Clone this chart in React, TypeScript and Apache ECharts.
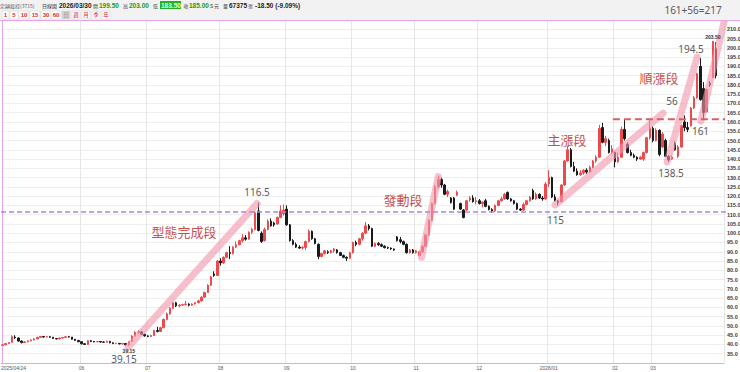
import React, { useEffect, useRef } from 'react';
import * as echarts from 'echarts';

// Taiwan exchange holidays within the range (weekdays closed)
const HOLIDAYS = [
  '2025-05-01', '2025-05-30', '2025-09-29', '2025-10-06', '2025-10-10', '2025-10-24',
  '2025-12-25', '2026-01-01', '2026-02-12', '2026-02-13', '2026-02-16', '2026-02-17',
  '2026-02-18', '2026-02-19', '2026-02-20', '2026-02-27',
];

// [open, close, low, high]
type K = [number, number, number, number];
const aprCandles: K[] = [
  [39.5, 39.8, 39.2, 40.2], [39.8, 40.5, 39.6, 40.8], [40.5, 41.0, 40.2, 41.3],
  [41.2, 44.2, 41.0, 45.0], [44.0, 43.6, 43.0, 45.0],
];
const mayCandles: K[] = [
  [43.5, 41.8, 41.5, 43.8], [41.8, 41.0, 40.6, 42.2], [41.0, 41.4, 40.8, 41.8], [41.4, 41.9, 41.2, 42.2],
  [41.9, 42.4, 41.7, 42.7], [42.4, 43.0, 42.2, 43.3], [43.0, 43.8, 42.8, 44.2], [43.8, 44.3, 43.5, 44.6],
  [44.3, 44.0, 43.7, 44.6], [44.0, 44.2, 43.8, 44.5], [44.2, 43.9, 43.6, 44.5], [43.9, 43.2, 43.0, 44.0],
  [43.2, 43.0, 42.7, 43.5], [43.0, 43.5, 42.8, 43.8], [43.5, 43.8, 43.2, 44.0], [43.8, 44.2, 43.6, 44.5],
  [44.2, 44.0, 43.7, 44.6], [44.0, 42.8, 42.6, 44.0], [42.8, 42.2, 41.9, 43.0], [42.2, 41.5, 41.2, 42.4],
];
const junCandles: K[] = [
  [41.5, 40.4, 40.0, 41.6], [40.4, 40.0, 39.7, 40.6], [40.0, 42.0, 39.9, 42.4], [42.0, 41.6, 41.3, 42.3],
  [41.6, 41.4, 41.1, 41.9], [41.4, 41.6, 41.2, 41.9], [41.6, 41.3, 41.0, 41.8], [41.3, 41.2, 40.9, 41.6],
  [41.2, 41.7, 41.0, 42.0], [41.7, 40.9, 40.6, 41.9], [40.9, 40.5, 40.2, 41.1], [40.5, 40.6, 40.2, 40.9],
  [40.6, 40.3, 40.0, 40.8], [40.3, 40.5, 40.0, 40.7], [40.5, 39.8, 39.5, 40.6], [39.8, 41.5, 39.15, 41.8],
  [41.5, 44.5, 41.3, 45.0], [44.5, 46.5, 44.2, 47.2], [46.5, 46.8, 45.8, 47.7], [46.8, 45.5, 45.2, 47.3],
  [45.5, 44.6, 44.2, 45.8],
];
const julCandles: K[] = [
  [44.6, 44.3, 43.9, 45.0], [44.3, 44.8, 44.0, 45.2], [44.8, 47.5, 44.6, 48.0], [47.5, 47.0, 46.5, 49.5],
  [47.0, 49.0, 46.8, 49.5], [49.0, 53.5, 48.8, 54.0], [53.5, 56.5, 53.0, 57.2], [56.5, 59.5, 56.0, 60.2],
  [59.5, 62.5, 59.0, 63.0], [62.5, 60.8, 60.2, 63.0], [60.8, 61.2, 60.0, 61.8], [61.2, 61.5, 60.8, 62.0],
  [61.5, 61.8, 61.0, 63.5], [61.8, 61.2, 60.5, 62.2], [61.2, 61.8, 60.8, 62.2], [61.8, 62.5, 61.5, 62.8],
  [62.5, 63.5, 62.2, 64.0], [63.5, 65.5, 63.2, 66.0], [65.5, 68.0, 65.2, 68.5], [68.0, 72.0, 67.8, 72.5],
  [72.0, 76.5, 71.5, 77.0], [78.0, 77.2, 76.5, 79.5], [77.2, 85.0, 77.0, 85.6],
];
const augCandles: K[] = [
  [85.0, 84.0, 82.5, 86.5], [84.0, 87.0, 83.5, 87.5], [87.0, 89.5, 86.5, 90.0], [89.5, 89.0, 86.0, 93.0],
  [89.0, 92.5, 88.5, 93.0], [92.5, 93.8, 92.0, 95.5], [93.8, 96.0, 93.5, 96.5], [96.0, 97.5, 95.0, 99.5],
  [97.5, 96.8, 96.0, 99.0], [96.8, 100.5, 96.5, 101.0], [100.5, 102.0, 99.5, 103.0], [102.0, 111.0, 101.5, 112.0],
  [112.0, 101.5, 101.0, 116.5], [100.0, 95.5, 94.8, 101.0], [96.0, 102.0, 95.5, 103.0], [102.0, 106.5, 101.5, 107.5],
  [106.5, 104.0, 103.5, 108.0], [105.5, 104.5, 103.5, 106.2], [105.0, 108.5, 104.5, 109.0], [108.5, 112.0, 108.0, 115.0],
  [110.5, 112.5, 109.5, 115.5],
];
const sepCandles: K[] = [
  [113.0, 104.5, 104.0, 115.0], [104.5, 96.0, 95.5, 105.0], [96.0, 94.0, 93.5, 96.8], [94.0, 92.5, 92.0, 95.0],
  [92.5, 92.0, 91.5, 93.5], [92.0, 92.3, 91.2, 93.0], [92.3, 95.5, 91.0, 96.0], [95.5, 101.0, 95.0, 102.0],
  [101.0, 97.0, 96.5, 101.5], [97.0, 94.5, 94.0, 97.5], [94.0, 87.5, 86.0, 94.5], [87.5, 89.0, 87.0, 89.5],
  [89.0, 90.5, 88.5, 91.0], [90.0, 89.5, 88.8, 90.8], [89.5, 90.5, 89.0, 91.0], [90.5, 91.5, 89.5, 92.0],
  [91.0, 89.5, 89.0, 91.5], [89.5, 88.0, 87.8, 90.0], [88.0, 87.0, 86.5, 88.5], [87.0, 86.5, 85.0, 87.5],
  [86.5, 89.5, 86.3, 90.0],
];
const octCandles: K[] = [
  [89.5, 95.0, 89.0, 95.5], [95.0, 94.0, 93.0, 96.0], [94.0, 97.0, 93.5, 97.5], [97.0, 100.0, 96.0, 100.5],
  [100.0, 104.0, 99.5, 106.0], [104.0, 102.5, 101.5, 105.0], [102.5, 93.0, 92.5, 103.0], [93.0, 94.5, 92.5, 95.0],
  [94.5, 93.8, 93.2, 95.2], [93.8, 93.0, 92.5, 94.5], [93.0, 92.2, 91.8, 93.5], [92.2, 92.0, 91.5, 92.8],
  [92.0, 91.5, 91.0, 92.3], [91.5, 91.0, 90.5, 91.8], [98.0, 96.0, 95.5, 98.5], [96.5, 95.5, 94.5, 98.0],
  [95.5, 94.0, 93.5, 96.0], [94.0, 89.5, 89.0, 94.5], [89.5, 91.0, 89.0, 91.5], [91.0, 89.5, 89.0, 91.5],
];
const novCandles: K[] = [
  [89.5, 90.5, 89.0, 91.0], [88.0, 90.0, 87.5, 90.5], [90.0, 93.0, 89.5, 93.5], [93.0, 99.0, 92.5, 99.5],
  [99.0, 107.0, 98.5, 107.5], [107.0, 116.0, 106.5, 116.5], [116.0, 125.0, 115.5, 126.0], [125.0, 129.0, 124.0, 131.0],
  [129.0, 126.0, 124.5, 130.0], [126.0, 121.0, 120.5, 126.5], [121.0, 122.5, 119.5, 123.5], [119.0, 116.5, 116.0, 119.5],
  [119.0, 113.0, 112.5, 119.5], [120.5, 122.0, 120.0, 123.0], [116.0, 113.0, 112.5, 116.5], [112.5, 108.5, 108.0, 113.0],
  [112.5, 117.5, 112.0, 118.0], [118.0, 119.0, 117.0, 120.0], [119.0, 117.0, 116.5, 120.5], [117.0, 117.5, 115.5, 119.5],
];
const decCandles: K[] = [
  [117.5, 116.0, 115.5, 118.5], [116.0, 116.8, 114.0, 117.0], [117.5, 114.5, 114.0, 118.5], [114.5, 112.8, 112.3, 115.0],
  [112.8, 112.0, 111.0, 113.5], [112.0, 115.0, 111.5, 115.5], [115.0, 117.5, 114.5, 118.0], [117.5, 118.5, 117.0, 119.5],
  [118.5, 121.0, 118.0, 121.8], [122.0, 118.5, 118.0, 122.5], [118.5, 117.5, 117.0, 119.0], [117.5, 116.0, 115.5, 118.0],
  [116.0, 113.0, 112.5, 116.5], [113.0, 112.5, 112.0, 113.5], [112.5, 115.5, 112.0, 116.5], [115.5, 117.5, 115.0, 118.0],
  [117.5, 119.5, 117.0, 120.0], [123.0, 118.5, 118.0, 124.0], [118.5, 121.0, 118.0, 122.0], [121.0, 119.0, 118.5, 121.5],
  [119.0, 118.5, 117.5, 120.0], [118.5, 126.5, 118.0, 127.5],
];
const janCandles: K[] = [
  [126.5, 130.0, 125.0, 134.0], [130.0, 119.5, 119.0, 130.5], [119.5, 117.5, 117.0, 121.0], [117.5, 116.5, 115.0, 118.0],
  [117.0, 126.0, 116.5, 126.5], [126.0, 139.0, 125.5, 139.5], [139.0, 145.0, 138.5, 147.0], [145.0, 136.0, 135.5, 146.0],
  [136.0, 133.5, 133.0, 138.5], [133.5, 131.5, 131.0, 135.0], [131.5, 132.5, 131.0, 134.0], [132.5, 134.0, 131.5, 134.5],
  [134.0, 133.0, 132.0, 135.0], [133.0, 135.5, 132.5, 136.5], [135.5, 139.0, 135.0, 139.5], [139.0, 141.0, 138.0, 142.0],
  [141.0, 156.5, 140.5, 158.5], [157.0, 149.0, 148.5, 159.5], [149.0, 151.0, 147.0, 152.5], [150.0, 143.5, 143.0, 151.0],
  [143.5, 145.5, 142.5, 147.5],
];
const febCandles: K[] = [
  [143.5, 138.5, 135.5, 144.0], [138.5, 141.0, 138.0, 143.5], [141.0, 156.0, 140.5, 157.5], [156.0, 151.0, 150.0, 161.0],
  [148.0, 143.5, 143.0, 149.0], [143.5, 142.0, 141.5, 145.0], [142.0, 141.0, 140.5, 143.0], [141.0, 140.0, 139.0, 141.5],
  [140.0, 141.0, 139.5, 141.5], [140.0, 143.5, 139.0, 144.0], [143.5, 151.5, 143.0, 152.0], [151.5, 156.5, 150.5, 161.0],
];
const marCandles: K[] = [
  [156.5, 150.0, 149.0, 157.5], [150.0, 155.5, 149.5, 156.5], [155.5, 142.5, 141.5, 156.0], [146.5, 153.5, 146.0, 154.5],
  [150.0, 141.5, 141.0, 151.0], [141.5, 139.5, 138.5, 142.0], [140.0, 141.0, 139.5, 142.0], [148.5, 145.0, 144.5, 149.5],
  [141.5, 146.5, 140.5, 147.5], [146.5, 158.0, 146.0, 158.5], [160.0, 157.0, 155.0, 163.5], [157.0, 156.0, 154.5, 160.0],
  [158.0, 167.5, 157.5, 168.0], [167.5, 173.0, 167.0, 174.0], [173.0, 186.0, 172.5, 186.5], [190.0, 172.0, 171.5, 194.5],
  [178.0, 165.0, 161.0, 181.5], [165.5, 177.5, 165.0, 178.0], [181.0, 180.0, 179.0, 182.0], [184.0, 203.5, 183.5, 203.5],
  [199.5, 185.0, 183.5, 203.0],
];

// Trend bands: [slot position, price] pairs
const bandForm: [number, number][] = [[39.75, 38.5], [80.6, 116.0]];
const bandLaunch: [number, number][] = [[132.7, 87.0], [138.0, 130.5]];
const bandMain: [number, number][] = [[175.0, 115.2], [209.2, 164.7]];
const bandRise: [number, number][] = [[210.5, 138.4], [220.0, 195.0]];
const bandTarget: [number, number][] = [[221.2, 160.5], [230.1, 225.5]];
const necklineLevel = 111.5;
const supportLevel = 161.5;

function tradingDays(): string[] {
  const out: string[] = [];
  const d = new Date(Date.UTC(2025, 3, 24));
  const end = Date.UTC(2026, 2, 30);
  while (d.getTime() <= end) {
    const wd = d.getUTCDay();
    const s = d.toISOString().slice(0, 10);
    if (wd !== 0 && wd !== 6 && !HOLIDAYS.includes(s)) out.push(s.replace(/-/g, '/'));
    d.setUTCDate(d.getUTCDate() + 1);
  }
  return out;
}

const ANN_NUM = { fontFamily: 'Noto Sans', fontSize: 10, fill: '#5a5a5a' };
const ANN_CJK = { fontFamily: 'Noto Sans CJK TC', fontSize: 13, fill: '#c4514f' };

export default function App() {
  const ref = useRef<HTMLDivElement>(null);
  useEffect(() => {
    document.body.style.margin = '0';
    const ohlc: K[] = [
      ...aprCandles, ...mayCandles, ...junCandles, ...julCandles, ...augCandles, ...sepCandles,
      ...octCandles, ...novCandles, ...decCandles, ...janCandles, ...febCandles, ...marCandles,
    ];
    const dates = tradingDays().slice(0, ohlc.length);
    const cats = [...dates, 'pad1', 'pad2'];
    const nSlots = cats.length;
    const monthLabels: Record<number, string> = {};
    dates.forEach((d, i) => {
      if (i === 0) return;
      const m = d.slice(5, 7);
      if (m !== dates[i - 1].slice(5, 7) && m !== '05') monthLabels[i] = m === '01' ? d.slice(0, 7) : m;
    });
    let maxIdx = 0, minIdx = 0;
    ohlc.forEach((k, i) => {
      if (k[3] > ohlc[maxIdx][3]) maxIdx = i;
      if (k[2] < ohlc[minIdx][2]) minIdx = i;
    });

    const band = (data: [number, number][]) => ({
      type: 'line', xAxisIndex: 1, yAxisIndex: 0, data, clip: false, symbol: 'none', silent: true, z: 4,
      lineStyle: { color: 'rgba(242,150,172,0.62)', width: 7, cap: 'round' },
    });

    const txt = (text: string, x: number, y: number, st: any, align = 'center') => ({
      type: 'text', x, y, silent: true, z: 100,
      style: { text, align, verticalAlign: 'middle', ...st },
    });

    const cjk = { fontFamily: 'Noto Sans CJK TC', fontSize: 5, fontWeight: 'normal', fill: '#444' };
    const num = { fontFamily: 'Liberation Sans', fontSize: 6.5, fontWeight: 'bold', fill: '#222' };
    const green = '#169c16';
    const header: any[] = [
      { type: 'rect', shape: { x: 0, y: 0, width: 740, height: 20 }, style: { fill: '#f2f2f2' }, silent: true, z: 90 },
      { type: 'line', shape: { x1: 0, y1: 20.5, x2: 740, y2: 20.5 }, style: { stroke: '#e7a3e7', lineWidth: 1 }, silent: true, z: 91 },
      txt('定穎投控(3715)', 0, 5, { ...cjk, fill: '#555' }, 'left'),
      txt('日線圖', 42, 5, { ...cjk, fill: '#333' }, 'left'),
      txt('2026/03/30', 59, 5, num, 'left'),
      txt('開', 93, 5, cjk, 'left'),
      txt('199.50', 99, 5, { ...num, fill: green }, 'left'),
      txt('高', 123, 5, cjk, 'left'),
      txt('203.00', 129, 5, { ...num, fill: green }, 'left'),
      txt('低', 153, 5, cjk, 'left'),
      { type: 'rect', shape: { x: 160, y: 1, width: 21, height: 8 }, style: { fill: '#20b520' }, silent: true, z: 99 },
      txt('183.50', 161, 5, { ...num, fill: '#e6ffe6' }, 'left'),
      txt('收', 183.5, 5, cjk, 'left'),
      txt('185.00', 189, 5, { ...num, fill: green }, 'left'),
      txt('s', 210, 5, { ...num, fontWeight: 'normal', fill: '#555' }, 'left'),
      txt('元', 214, 5, cjk, 'left'),
      txt('量', 223, 5, cjk, 'left'),
      txt('67375', 229, 5, num, 'left'),
      txt('張', 248, 5, cjk, 'left'),
      txt('-18.50 (-9.09%)', 255, 5, num, 'left'),
    ];
    const buttons: [string, number, number][] = [
      ['1', 2, 7], ['5', 10, 8], ['10', 19, 10], ['15', 30, 10], ['30', 41, 10], ['60', 51, 10],
      ['日', 62, 8], ['週', 72, 8], ['月', 82, 8], ['季', 92, 8], ['年', 102, 8],
    ];
    buttons.forEach(([t, x, w]) => {
      const sel = t === '日';
      const isNum = /\d/.test(t);
      header.push({ type: 'rect', shape: { x, y: 11, width: w, height: 8 },
        style: { fill: sel ? '#cfcfcf' : '#ffffff', stroke: '#d6d6d6', lineWidth: 0.6 }, silent: true, z: 95 });
      header.push(txt(t, x + w / 2, 15.2, isNum
        ? { ...num, fontSize: 6, fill: '#d22a2a' }
        : { ...cjk, fontSize: 5.5, fill: sel ? '#999' : '#d22a2a' }));
    });

    const annotations = [
      txt('161+56=217', 693, 10, ANN_NUM),
      txt('194.5', 691, 49, ANN_NUM),
      txt('順漲段', 659, 77, ANN_CJK),
      txt('56', 672, 101, ANN_NUM),
      txt('161', 700.5, 131, ANN_NUM),
      txt('主漲段', 567, 139, ANN_CJK),
      txt('138.5', 671, 173, ANN_NUM),
      txt('116.5', 257, 192, ANN_NUM),
      txt('發動段', 403, 199, ANN_CJK),
      txt('115', 555.5, 220, ANN_NUM),
      txt('型態完成段', 184, 231, ANN_CJK),
      txt('39.15', 124, 359, ANN_NUM),
      txt(dates[0], 1, 368, { fontFamily: 'Liberation Sans', fontSize: 5, fill: '#555' }, 'left'),
    ];

    const chart = echarts.init(ref.current!, null, { renderer: 'svg' });
    chart.setOption({
      animation: false,
      backgroundColor: '#ffffff',
      grid: { left: 1, right: 16, top: 20, bottom: 9, outerBoundsMode: 'none', containLabel: false },
      xAxis: [
        {
          type: 'category', data: cats, boundaryGap: true,
          axisLine: { show: true, lineStyle: { color: '#e7a3e7' } },
          axisTick: { show: false },
          axisLabel: {
            interval: (i: number) => monthLabels[i] !== undefined,
            formatter: (_v: string, i: number) => monthLabels[i] ?? '',
            fontSize: 5, color: '#555', margin: 2, fontFamily: 'Liberation Sans', hideOverlap: false,
          },
          splitLine: { show: true, interval: (i: number) => monthLabels[i] !== undefined, lineStyle: { color: '#e6e6e6', width: 1 } },
        },
        { type: 'value', min: -0.5, max: nSlots - 0.5, show: false, splitLine: { show: false } },
      ],
      yAxis: {
        type: 'value', position: 'right', min: 30, max: 215, interval: 5, scale: false,
        axisLine: { show: true, lineStyle: { color: '#e7a3e7' } },
        axisTick: { show: false },
        axisLabel: {
          fontSize: 5.5, color: '#3a3a3a', fontWeight: 'bold', margin: 3, fontFamily: 'Liberation Sans',
          formatter: (v: number) => (v < 35 || v > 210 ? '' : v.toFixed(1)),
        },
        splitLine: { show: true, lineStyle: { color: '#efefef', width: 1 } },
      },
      series: [
        {
          type: 'candlestick', xAxisIndex: 0, yAxisIndex: 0, data: ohlc, barWidth: 2, z: 2,
          itemStyle: { color: '#ec4b4e', color0: '#1a1a1a', borderColor: '#ec4b4e', borderColor0: '#1a1a1a', borderWidth: 1 },
          markPoint: {
            symbol: 'circle', symbolSize: 0, silent: true, animation: false,
            label: { show: true, fontSize: 5, fontWeight: 'bold', color: '#333', fontFamily: 'Liberation Sans' },
            data: [
              { coord: [maxIdx, ohlc[maxIdx][3]], value: ohlc[maxIdx][3],
                label: { position: 'top', distance: 2, formatter: ohlc[maxIdx][3].toFixed(2) } },
              { coord: [minIdx, ohlc[minIdx][2]], value: ohlc[minIdx][2],
                label: { position: 'bottom', distance: 2, formatter: ohlc[minIdx][2].toFixed(2) } },
            ],
          },
        },
        band(bandForm), band(bandLaunch), band(bandMain), band(bandRise), band(bandTarget),
        {
          type: 'line', xAxisIndex: 1, yAxisIndex: 0, clip: false, symbol: 'none', silent: true, z: 5,
          data: [[-0.5, necklineLevel], [nSlots + 5, necklineLevel]],
          lineStyle: { color: '#a68cd4', width: 1.5, type: [5, 3] },
        },
        {
          type: 'line', xAxisIndex: 1, yAxisIndex: 0, clip: false, symbol: 'none', silent: true, z: 5,
          data: [[193.3, supportLevel], [nSlots + 5, supportLevel]],
          lineStyle: { color: '#d9605f', width: 2, type: [7, 4] },
        },
      ],
      graphic: [...header, ...annotations],
    });
    return () => chart.dispose();
  }, []);
  return <div ref={ref} style={{ width: 740, height: 372 }} />;
}
